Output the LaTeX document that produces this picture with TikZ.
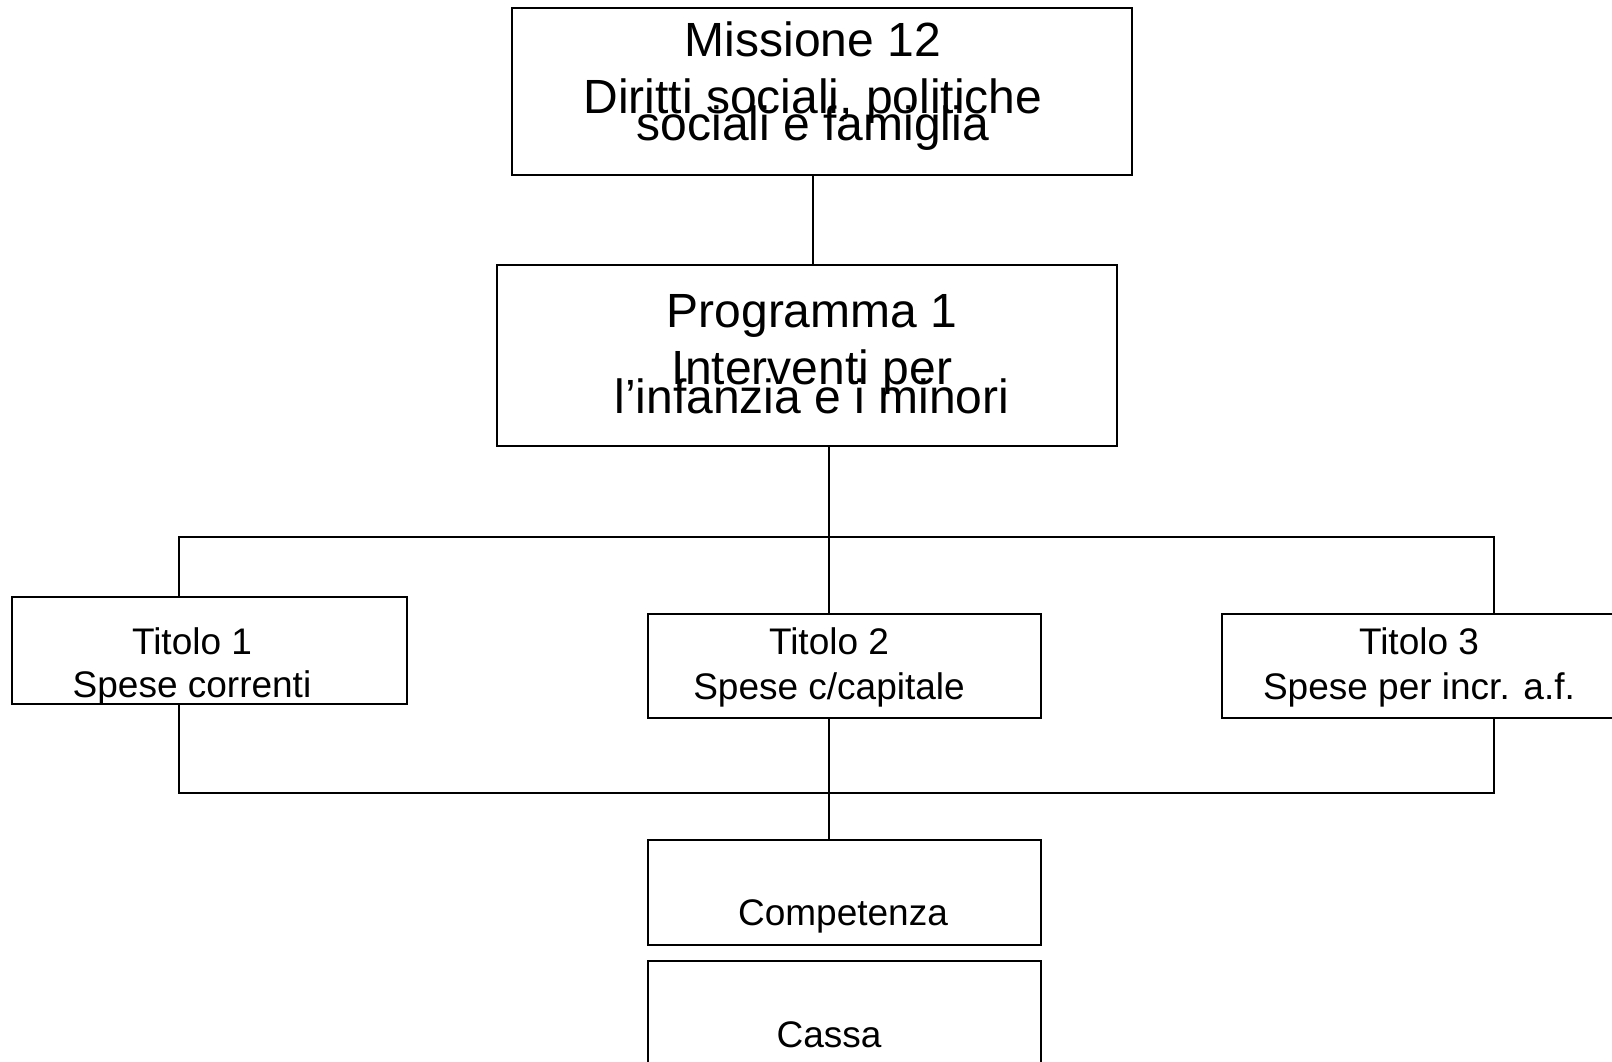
\documentclass[tikz,border=0pt]{standalone}
\usepackage{fontspec}
\setmainfont{Liberation Sans}
\usetikzlibrary{positioning}

\begin{document}
\begin{tikzpicture}[x=1pt,y=-1pt,
	box/.style={draw,line width=1.6pt,inner sep=0pt,anchor=north west},
	wire/.style={line width=1.4pt},
	big/.style={font=\fontsize{48}{48}\selectfont,inner sep=0pt,anchor=base},
	small/.style={font=\fontsize{37}{37}\selectfont,inner sep=0pt,anchor=base}]
	\useasboundingbox[fill=white] (0,0) rectangle (1612,1061);

	% boxes
	\node[box,minimum width=620pt,minimum height=167pt] (missione) at (511,7) {};
	\node[box,minimum width=620pt,minimum height=181pt] (programma) at (496,264) {};
	\node[box,minimum width=395pt,minimum height=107pt] (titolo1) at (11,596) {};
	\node[box,minimum width=393pt,minimum height=104pt] (titolo2) at (647,613) {};
	\node[box,minimum width=393pt,minimum height=104pt] (titolo3) at (1221,613) {};
	\node[box,minimum width=393pt,minimum height=105pt] (competenza) at (647,839) {};
	\node[box,minimum width=393pt,minimum height=120pt] (cassa) at (647,960) {};

	% texts
	\node[big] (m1) at (813,56) {Missione 12};
	\node[big] (m2) at (813,113) {Diritti sociali, politiche};
	\node[big] (m3) at (813,140) {sociali e famiglia};
	\node[big] (p1) at (812,327) {Programma 1};
	\node[big] (p2) at (812,384) {Interventi per};
	\node[big] (p3) at (812,413) {l’infanzia e i minori};
	\node[small] (t1a) at (192,654) {Titolo 1};
	\node[small] (t1b) at (192,697) {Spese correnti};
	\node[small] (t2a) at (829,654) {Titolo 2};
	\node[small] (t2b) at (829,699) {Spese c/capitale};
	\node[small] (t3a) at (1419,654) {Titolo 3};
	\node[small] (t3b) at (1419,699) {Spese per incr. a.f.};
	\node[small] (comp) at (843,925) {Competenza};
	\node[small] (cas) at (829,1047) {Cassa};

	% connectors
	\coordinate (busL) at (179,537);
	\coordinate (busC) at (829,537);
	\coordinate (busR) at (1494,537);
	\coordinate (lowL) at (179,793);
	\coordinate (lowC) at (829,793);
	\coordinate (lowR) at (1494,793);

	\draw[wire] (missione.south -| m1) -- (programma.north -| m1);
	\draw[wire] (programma.south -| busC) -- (busC) -- (titolo2.north -| busC);
	\draw[wire] (titolo1.north -| busL) -- (busL) -- (busR) -- (titolo3.north -| busR);
	\draw[wire] (titolo1.south -| lowL) -- (lowL) -- (lowR) -- (titolo3.south -| lowR);
	\draw[wire] (titolo2.south -| lowC) -- (competenza.north -| lowC);
\end{tikzpicture}
\end{document}
